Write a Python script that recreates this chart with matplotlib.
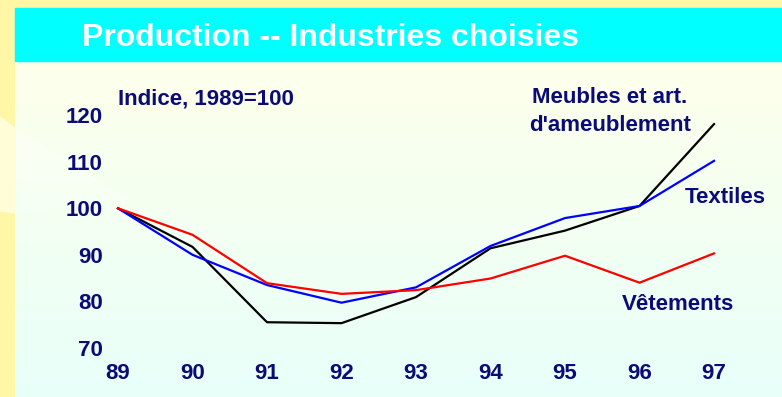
import numpy as np
import matplotlib.pyplot as plt
from matplotlib.patches import Rectangle, Polygon

plt.rcParams['font.family'] = ['Liberation Sans', 'DejaVu Sans']
plt.rcParams['font.weight'] = 'bold'

years = [89, 90, 91, 92, 93, 94, 95, 96, 97]
meubles = [100, 91.7, 75.5, 75.3, 80.9, 91.4, 95.2, 100.5, 118.1]
textiles = [100, 90.0, 83.5, 79.7, 83.0, 91.9, 97.9, 100.5, 110.2]
vetements = [100, 94.3, 83.9, 81.6, 82.4, 84.9, 89.8, 84.0, 90.3]
yticks = [70, 80, 90, 100, 110, 120]

W, H = 782, 397
navy = '#0a0a78'

fig = plt.figure(figsize=(W / 100, H / 100), dpi=100)

# background: yellow frame, pale gradient panel, cyan title band
bg = fig.add_axes([0, 0, 1, 1])
bg.set_xlim(0, W)
bg.set_ylim(H, 0)
bg.axis('off')
bg.add_patch(Rectangle((0, 0), W, H, color='#fff6a6', zorder=0))
top = np.array([0.995, 1.0, 0.92])
bot = np.array([0.91, 1.0, 0.98])
t = np.linspace(0, 1, 256)[:, None]
grad = (top * (1 - t) + bot * t)[:, None, :].repeat(2, axis=1)
bg.imshow(grad, extent=[15, W, H, 61], aspect='auto', zorder=1)
bg.add_patch(Polygon([(0, 117), (15, 128), (15, 213), (0, 211)],
                     closed=True, color='#fffcd8', zorder=2))
bg.add_patch(Polygon([(15, 128), (130, 200), (15, 213)],
                     closed=True, color='white', alpha=0.25, lw=0, zorder=2))
bg.add_patch(Rectangle((15, 8), W - 15, 53, color='#00ffff', zorder=3))
bg.text(82, 46, 'Production -- Industries choisies', color='white',
        fontsize=23, fontweight='bold', va='baseline', ha='left', zorder=4)

ax = fig.add_axes([118 / W, 1 - 347.8 / H, 596 / W, 232.5 / H])
ax.patch.set_alpha(0)
ax.plot(years, meubles, color='black', lw=1.6, clip_on=False)
ax.plot(years, textiles, color='#0000ff', lw=1.6, clip_on=False)
ax.plot(years, vetements, color='#ff0000', lw=1.6, clip_on=False)
ax.set_xlim(89, 97)
ax.set_ylim(70, 120)
ax.set_xticks(years)
ax.set_yticks(yticks)
ax.set_xticklabels([str(y) for y in years])
ax.tick_params(length=0, pad=11, labelsize=16, labelcolor=navy)
for lab in ax.get_xticklabels() + ax.get_yticklabels():
    lab.set_fontweight('bold')
for s in ax.spines.values():
    s.set_visible(False)

bg.text(118, 104, 'Indice, 1989=100', color=navy, fontsize=16,
        fontweight='bold', ha='left', va='baseline', zorder=5)
bg.text(610, 103, 'Meubles et art.', color=navy, fontsize=16,
        fontweight='bold', ha='center', va='baseline', zorder=5)
bg.text(610, 131, "d'ameublement", color=navy, fontsize=16,
        fontweight='bold', ha='center', va='baseline', zorder=5)
bg.text(725, 203, 'Textiles', color=navy, fontsize=16,
        fontweight='bold', ha='center', va='baseline', zorder=5)
bg.text(678, 310, 'Vêtements', color=navy, fontsize=16,
        fontweight='bold', ha='center', va='baseline', zorder=5)

fig.savefig('out.png', dpi=100)
